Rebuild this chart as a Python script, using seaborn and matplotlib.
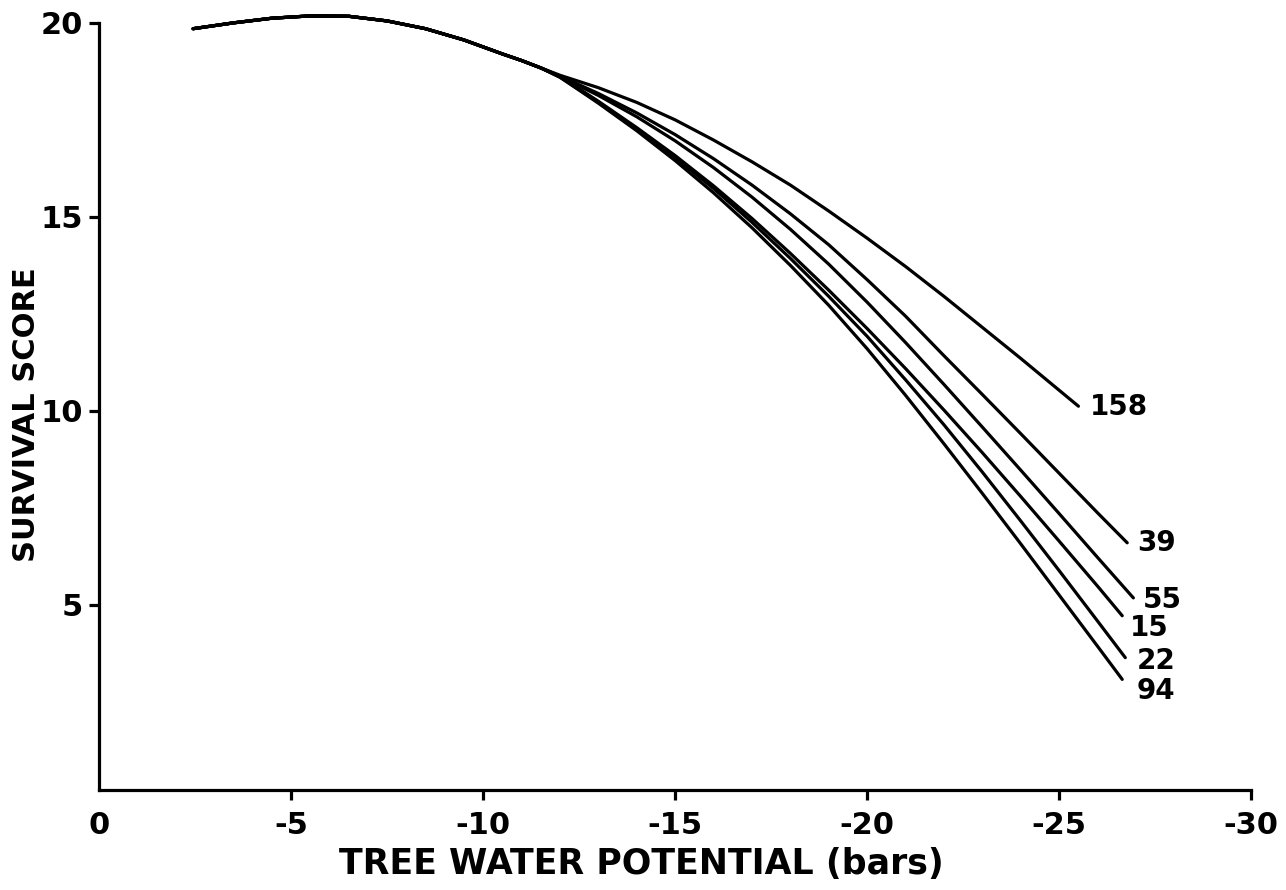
import numpy as np
import pandas as pd
import matplotlib
matplotlib.use("Agg")
import matplotlib.pyplot as plt
import seaborn as sns

# ---- data ----
# shared part of all curves (they overlap up to about -11.5 bars)
common_x = [-2.45, -3.5, -4.5, -5.5, -6.5, -7.5, -8.5, -9.5, -10.5, -11.0, -11.5]
common_y = [19.85, 20.0, 20.12, 20.18, 20.17, 20.05, 19.85, 19.56, 19.2, 19.03, 18.84]

clone_158_x = [-12, -13, -14, -15, -16, -17, -18, -19, -20, -21, -22, -23, -24, -25, -25.5]
clone_158_y = [18.65, 18.33, 17.95, 17.5, 16.98, 16.42, 15.82, 15.15, 14.45, 13.72, 12.95, 12.15, 11.35, 10.53, 10.12]

clone_39_x = [-12, -13, -14, -15, -16, -17, -18, -19, -20, -21, -22, -23, -24, -25, -26, -26.77]
clone_39_y = [18.63, 18.18, 17.68, 17.12, 16.5, 15.82, 15.08, 14.28, 13.38, 12.44, 11.42, 10.42, 9.41, 8.39, 7.37, 6.6]

clone_55_x = [-12, -13, -14, -15, -16, -17, -18, -19, -20, -21, -22, -23, -24, -25, -26, -26.93]
clone_55_y = [18.62, 18.13, 17.58, 16.96, 16.27, 15.51, 14.68, 13.78, 12.8, 11.76, 10.68, 9.58, 8.47, 7.35, 6.22, 5.18]

clone_15_x = [-12, -13, -14, -15, -16, -17, -18, -19, -20, -21, -22, -23, -24, -25, -26, -26.64]
clone_15_y = [18.62, 17.98, 17.3, 16.58, 15.8, 14.96, 14.06, 13.11, 12.12, 11.09, 10.02, 8.92, 7.79, 6.64, 5.48, 4.72]

clone_22_x = [-12, -13, -14, -15, -16, -17, -18, -19, -20, -21, -22, -23, -24, -25, -26, -26.72]
clone_22_y = [18.6, 17.96, 17.27, 16.53, 15.73, 14.86, 13.93, 12.95, 11.92, 10.8, 9.64, 8.42, 7.16, 5.88, 4.58, 3.64]

clone_94_x = [-12, -13, -14, -15, -16, -17, -18, -19, -20, -21, -22, -23, -24, -25, -26, -26.64]
clone_94_y = [18.6, 17.93, 17.22, 16.45, 15.62, 14.72, 13.75, 12.72, 11.6, 10.4, 9.15, 7.87, 6.57, 5.25, 3.93, 3.08]

clone_names = ["158", "39", "55", "15", "22", "94"]
clone_tails = {
    "158": (clone_158_x, clone_158_y),
    "39": (clone_39_x, clone_39_y),
    "55": (clone_55_x, clone_55_y),
    "15": (clone_15_x, clone_15_y),
    "22": (clone_22_x, clone_22_y),
    "94": (clone_94_x, clone_94_y),
}

x_ticks = [0, -5, -10, -15, -20, -25, -30]
y_ticks = [5, 10, 15, 20]

# label offsets (points) relative to each curve's end
label_offsets = {
    "158": (8.0, -0.5),
    "39": (7.0, -0.5),
    "55": (6.5, -1.5),
    "15": (5.5, -9.0),
    "22": (8.5, -2.5),
    "94": (10.5, -8.5),
}

rows = []
for name in clone_names:
    tx, ty = clone_tails[name]
    xs = list(common_x) + list(tx)
    ys = list(common_y) + list(ty)
    for i, (xv, yv) in enumerate(zip(xs, ys)):
        rows.append({"clone": name, "order": i, "x": xv, "y": yv})
df = pd.DataFrame(rows)

sns.set_style("ticks")
plt.rcParams["font.family"] = ["DejaVu Sans"]
plt.rcParams["text.color"] = "black"
plt.rcParams["axes.labelcolor"] = "black"
plt.rcParams["xtick.color"] = "black"
plt.rcParams["ytick.color"] = "black"

fig = plt.figure(figsize=(12.86, 8.90), dpi=100)
ax = fig.add_axes([0.077, 0.1124, 0.896, 0.8837])

sns.lineplot(data=df, x="x", y="y", units="clone", estimator=None, sort=False,
             color="black", linewidth=2.3, ax=ax, legend=False,
             solid_joinstyle="round", solid_capstyle="round")

for name in clone_names:
    tx, ty = clone_tails[name]
    ax.annotate(name, xy=(tx[-1], ty[-1]), xytext=label_offsets[name],
                textcoords="offset points", ha="left", va="center",
                fontsize=20, fontweight="bold", color="black")

ax.set_xlim(0, -30)
ax.set_ylim(0.23, 20.5)
ax.set_xticks(x_ticks)
ax.set_xticklabels([str(t) for t in x_ticks])
ax.set_yticks(y_ticks)
ax.set_yticklabels([str(t) for t in y_ticks])

for side in ["top", "right"]:
    ax.spines[side].set_visible(False)
for side in ["left", "bottom"]:
    ax.spines[side].set_linewidth(2.3)
    ax.spines[side].set_color("black")
ax.spines["left"].set_bounds(0.23, 20)

ax.tick_params(axis="x", direction="out", length=7.5, width=2.3, labelsize=22, pad=8)
ax.tick_params(axis="y", direction="out", length=7.5, width=2.3, labelsize=22, pad=4)
for lab in ax.get_xticklabels() + ax.get_yticklabels():
    lab.set_fontweight("bold")
# the origin has no downward tick mark in the reference
ax.xaxis.get_major_ticks()[0].tick1line.set_visible(False)

ax.set_xlabel("TREE WATER POTENTIAL (bars)", fontsize=25, fontweight="bold")
ax.set_ylabel("SURVIVAL SCORE", fontsize=22, fontweight="bold")
ax.xaxis.set_label_coords(0.471, -0.072)
ax.yaxis.set_label_coords(-0.05, 0.477)

fig.savefig("out.png", dpi=100, facecolor="white")
